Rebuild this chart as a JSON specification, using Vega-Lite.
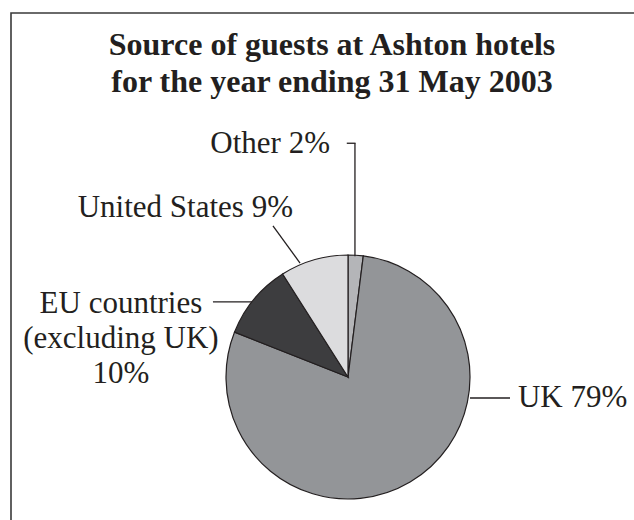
{
  "$schema": "https://vega.github.io/schema/vega-lite/v6.json",
  "width": 674,
  "height": 728,
  "autosize": {"type": "none"},
  "padding": {"left": 11, "top": 13, "right": 0, "bottom": 0},
  "background": "white",
  "config": {
    "view": {"stroke": "#3a3a3a", "strokeWidth": 1.6},
    "text": {"font": "Liberation Serif", "color": "#231f20"}
  },
  "data": {
    "values": [
      {"source": "Other", "share": 2, "label": "Other 2%"},
      {"source": "UK", "share": 79, "label": "UK 79%"},
      {"source": "EU countries (excluding UK)", "share": 10, "label": "EU countries\n(excluding UK)\n10%"},
      {"source": "United States", "share": 9, "label": "United States 9%"}
    ]
  },
  "layer": [
    {
      "mark": {"type": "arc", "outerRadius": 122, "stroke": "#231f20", "strokeWidth": 1.2},
      "encoding": {
        "theta": {"field": "share", "type": "quantitative", "stack": true, "scale": {"range": [0.1256637, 6.4088494]}},
        "order": {"field": "share", "sort": "descending"},
        "color": {
          "field": "source",
          "type": "nominal",
          "scale": {
            "domain": ["Other", "UK", "EU countries (excluding UK)", "United States"],
            "range": ["#b4b5b8", "#939598", "#3d3d3f", "#dcdcde"]
          },
          "legend": null
        }
      }
    },
    {
      "data": {"values": [{"title": "Source of guests at Ashton hotels\nfor the year ending 31 May 2003"}]},
      "mark": {"type": "text", "fontSize": 32, "fontWeight": "bold", "align": "center", "baseline": "alphabetic", "lineBreak": "\n", "lineHeight": 37, "color": "#231f20"},
      "encoding": {
        "text": {"field": "title"},
        "x": {"datum": -0.131, "type": "quantitative", "scale": {"domain": [-2.7623, 2.7623], "nice": false, "zero": false}, "axis": null},
        "y": {"datum": 2.639, "type": "quantitative", "scale": {"domain": [-2.9836, 2.9836], "nice": false, "zero": false}, "axis": null}
      }
    },
    {
      "transform": [{"filter": "datum.source === 'Other'"}],
      "mark": {"type": "rule", "stroke": "#231f20", "strokeWidth": 1.3},
      "encoding": {
        "x": {"datum": 0.057, "type": "quantitative", "scale": {"domain": [-2.7623, 2.7623], "nice": false, "zero": false}, "axis": null},
        "y": {"datum": 1.916, "type": "quantitative", "scale": {"domain": [-2.9836, 2.9836], "nice": false, "zero": false}, "axis": null},
        "y2": {"datum": 0.99}
      }
    },
    {
      "transform": [{"filter": "datum.source === 'Other'"}],
      "mark": {"type": "rule", "stroke": "#231f20", "strokeWidth": 1.3},
      "encoding": {
        "x": {"datum": -0.01, "type": "quantitative", "scale": {"domain": [-2.7623, 2.7623], "nice": false, "zero": false}, "axis": null},
        "x2": {"datum": 0.062},
        "y": {"datum": 1.916, "type": "quantitative", "scale": {"domain": [-2.9836, 2.9836], "nice": false, "zero": false}, "axis": null}
      }
    },
    {
      "transform": [{"filter": "datum.source === 'United States'"}],
      "mark": {"type": "rule", "stroke": "#231f20", "strokeWidth": 1.3},
      "encoding": {
        "x": {"datum": -0.615, "type": "quantitative", "scale": {"domain": [-2.7623, 2.7623], "nice": false, "zero": false}, "axis": null},
        "x2": {"datum": -0.393},
        "y": {"datum": 1.238, "type": "quantitative", "scale": {"domain": [-2.9836, 2.9836], "nice": false, "zero": false}, "axis": null},
        "y2": {"datum": 0.934}
      }
    },
    {
      "transform": [{"filter": "datum.source === 'EU countries (excluding UK)'"}],
      "mark": {"type": "rule", "stroke": "#231f20", "strokeWidth": 1.3},
      "encoding": {
        "x": {"datum": -1.107, "type": "quantitative", "scale": {"domain": [-2.7623, 2.7623], "nice": false, "zero": false}, "axis": null},
        "x2": {"datum": -0.787},
        "y": {"datum": 0.615, "type": "quantitative", "scale": {"domain": [-2.9836, 2.9836], "nice": false, "zero": false}, "axis": null}
      }
    },
    {
      "transform": [{"filter": "datum.source === 'UK'"}],
      "mark": {"type": "rule", "stroke": "#231f20", "strokeWidth": 1.3},
      "encoding": {
        "x": {"datum": 1.0, "type": "quantitative", "scale": {"domain": [-2.7623, 2.7623], "nice": false, "zero": false}, "axis": null},
        "x2": {"datum": 1.328},
        "y": {"datum": -0.172, "type": "quantitative", "scale": {"domain": [-2.9836, 2.9836], "nice": false, "zero": false}, "axis": null}
      }
    },
    {
      "transform": [{"filter": "datum.source === 'Other'"}],
      "mark": {"type": "text", "fontSize": 31, "align": "right", "baseline": "alphabetic"},
      "encoding": {
        "text": {"field": "label"},
        "x": {"datum": -0.1475, "type": "quantitative", "scale": {"domain": [-2.7623, 2.7623], "nice": false, "zero": false}, "axis": null},
        "y": {"datum": 1.836, "type": "quantitative", "scale": {"domain": [-2.9836, 2.9836], "nice": false, "zero": false}, "axis": null}
      }
    },
    {
      "transform": [{"filter": "datum.source === 'United States'"}],
      "mark": {"type": "text", "fontSize": 31, "align": "right", "baseline": "alphabetic"},
      "encoding": {
        "text": {"field": "label"},
        "x": {"datum": -0.451, "type": "quantitative", "scale": {"domain": [-2.7623, 2.7623], "nice": false, "zero": false}, "axis": null},
        "y": {"datum": 1.311, "type": "quantitative", "scale": {"domain": [-2.9836, 2.9836], "nice": false, "zero": false}, "axis": null}
      }
    },
    {
      "transform": [{"filter": "datum.source === 'EU countries (excluding UK)'"}],
      "mark": {"type": "text", "fontSize": 31, "align": "center", "baseline": "alphabetic", "lineBreak": "\n", "lineHeight": 35},
      "encoding": {
        "text": {"field": "label"},
        "x": {"datum": -1.861, "type": "quantitative", "scale": {"domain": [-2.7623, 2.7623], "nice": false, "zero": false}, "axis": null},
        "y": {"datum": 0.525, "type": "quantitative", "scale": {"domain": [-2.9836, 2.9836], "nice": false, "zero": false}, "axis": null}
      }
    },
    {
      "transform": [{"filter": "datum.source === 'UK'"}],
      "mark": {"type": "text", "fontSize": 31, "align": "left", "baseline": "alphabetic"},
      "encoding": {
        "text": {"field": "label"},
        "x": {"datum": 1.393, "type": "quantitative", "scale": {"domain": [-2.7623, 2.7623], "nice": false, "zero": false}, "axis": null},
        "y": {"datum": -0.246, "type": "quantitative", "scale": {"domain": [-2.9836, 2.9836], "nice": false, "zero": false}, "axis": null}
      }
    }
  ]
}
